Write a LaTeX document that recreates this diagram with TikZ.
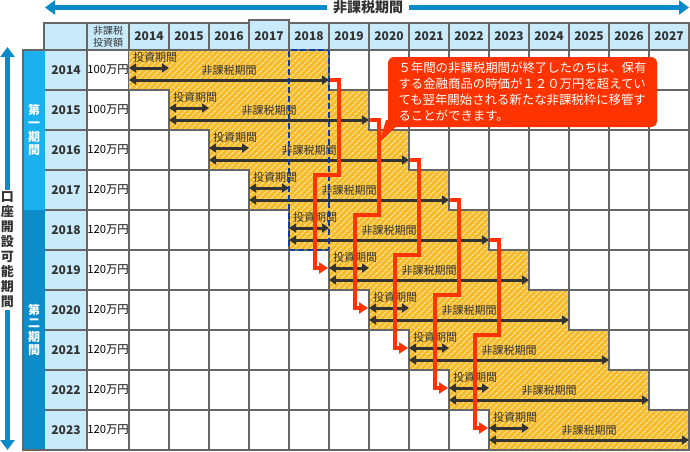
\documentclass[tikz,border=0pt]{standalone}
\usepackage{fontspec}
\setmainfont{Noto Sans CJK JP}
\usetikzlibrary{arrows.meta, patterns.meta, calc}

\newcommand{\fsz}[2]{\fontsize{#1}{#2}\selectfont}

\begin{document}
\begin{tikzpicture}[x=1pt, y=-1pt,
    cellline/.style={draw=gridgray, line width=2pt},
    axisarrow/.style={axisblue, line width=4.5pt, -{Triangle[length=10pt, width=14pt]}},
    biarrow/.style={arrgray, line width=3pt, {Triangle[length=7pt, width=9pt]}-{Triangle[length=7pt, width=9pt]}},
    redpath/.style={callred, line width=4.5pt, line join=miter, -{Triangle[length=9pt, width=11pt]}},
    lbl/.style={text=arrgray, font=\fsz{11}{11}, inner sep=0pt}]
    \definecolor{hdrblue}{RGB}{200,234,250}
    \definecolor{firstblue}{RGB}{27,176,238}
    \definecolor{secondblue}{RGB}{12,140,200}
    \definecolor{axisblue}{RGB}{10,138,200}
    \definecolor{gridgray}{RGB}{102,102,102}
    \definecolor{taxfree}{RGB}{247,186,40}
    \definecolor{stripe}{RGB}{254,232,170}
    \definecolor{callred}{RGB}{255,51,0}
    \definecolor{arrgray}{RGB}{51,51,51}
    \definecolor{boxblue}{RGB}{16,60,160}
    \useasboundingbox (0,0) rectangle (690,451);
    % top axis
    \node[font=\bfseries\fsz{14}{14}, text=arrgray, inner xsep=6pt] (toplabel) at (368,7.5) {非課税期間};
    \draw[axisarrow] (toplabel.west) -- (45,7.5);
    \draw[axisarrow] (toplabel.east) -- (689,7.5);
    % left axis
    \node[font=\bfseries\fsz{13}{15}, text=arrgray, align=center, inner sep=2pt] (sidelabel) at (7.5,250) {口\\座\\開\\設\\可\\能\\期\\間};
    \draw[axisarrow] (sidelabel.north) -- (7.5,47);
    \draw[axisarrow] (sidelabel.south) -- (7.5,450);
    % header row
    \fill[hdrblue] (44,23) rectangle (689,50);
    \draw[cellline] (44,23) rectangle (87,50);
    \draw[cellline] (87,23) rectangle (129,50);
    \node[font=\fsz{10}{12}, text=arrgray, align=center, inner sep=0pt] (amthdr) at (108,36.5) {非課税\\投資額};
    \foreach \yr [count=\col from 0] in {2014,...,2027}{
        \draw[cellline] (129+40*\col,23) rectangle ++(40,27);
        \node[font=\bfseries\fsz{12}{12}, text=arrgray] (hdr\yr) at (149+40*\col,36.5) {\yr};
    }
    \draw[cellline, fill=hdrblue] (249,20) rectangle (289,50);
    \node[font=\bfseries\fsz{12}{12}, text=arrgray] (hdrnow) at (269,36) {2017};
    % period column
    \fill[firstblue] (23,50) rectangle (45,210);
    \fill[secondblue] (23,210) rectangle (45,450);
    \node[text=white, font=\bfseries\fsz{12}{13.5}, align=center] (firstterm) at (34,130) {第\\一\\期\\間};
    \node[text=white, font=\bfseries\fsz{12}{13.5}, align=center] (secondterm) at (34,330) {第\\二\\期\\間};
    % year and amount columns
    \fill[hdrblue] (45,50) rectangle (87,450);
    \foreach \yr/\amt [count=\row from 0] in {2014/100, 2015/100, 2016/120, 2017/120, 2018/120,
        2019/120, 2020/120, 2021/120, 2022/120, 2023/120}{
        \draw[cellline] (45,90+40*\row) -- (87,90+40*\row);
        \draw[cellline] (87,50+40*\row) rectangle ++(42,40);
        \node[font=\bfseries\fsz{12}{12}, text=arrgray] (yr\yr) at (66,70+40*\row) {\yr};
        \node[font=\fsz{11.3}{11.3}, text=black, inner sep=0pt] (amt\yr) at (108,70+40*\row) {\amt 万円};
    }
    % tax-free staircase
    \fill[taxfree] \foreach \row in {0,...,9}{ (129+40*\row,50+40*\row) rectangle ++(200,40) };
    \path[pattern={Lines[angle=45, distance=4pt, line width=1.1pt]}, pattern color=stripe]
        \foreach \row in {0,...,9}{ (129+40*\row,50+40*\row) rectangle ++(200,40) };
    % empty cells
    \foreach \row in {0,...,9}{
        \foreach \col in {0,...,13}{
            \pgfmathtruncatemacro{\inside}{(\col>=\row)&&(\col<=\row+4)}
            \ifnum\inside=0
                \draw[cellline] (129+40*\col,50+40*\row) rectangle ++(40,40);
            \fi
        }
    }
    \draw[cellline] (23,50) rectangle (689,450);
    % periods per row
    \foreach \row in {0,...,9}{
        \draw[biarrow] (129+40*\row,68+40*\row) -- ++(40,0);
        \draw[biarrow] (129+40*\row,80+40*\row) -- ++(200,0);
        \node[lbl, anchor=west] (inv\row) at (133+40*\row,57+40*\row) {投資期間};
        \node[lbl] (ntx\row) at (229+40*\row,70+40*\row) {非課税期間};
    }
    % current frame
    \draw[boxblue, line width=1.6pt, dash pattern=on 6pt off 3pt, rounded corners=2pt]
        (289,50) -- (329,50) -- (329,250) -- (289,250) -- cycle;
    % rollover lines
    \foreach \k in {0,...,4}{
        \draw[redpath] (330+40*\k,80+40*\k) -- (339+40*\k,80+40*\k) -- (339+40*\k,175+40*\k)
            -- (315+40*\k,175+40*\k) -- (315+40*\k,268+40*\k) -- (328+40*\k,268+40*\k);
    }
    % note
    \fill[callred] (386,120) -- (403,120) -- (379,143) -- cycle;
    \node[fill=callred, rounded corners=6pt, text=white, align=left, font=\fsz{12.4}{16},
        minimum width=269pt, minimum height=70pt, inner sep=0pt] (note) at (522.5,92)
        {５年間の非課税期間が終了したのちは、保有\\
         する金融商品の時価が１２０万円を超えてい\\
         ても翌年開始される新たな非課税枠に移管す\\
         ることができます。};
\end{tikzpicture}
\end{document}
